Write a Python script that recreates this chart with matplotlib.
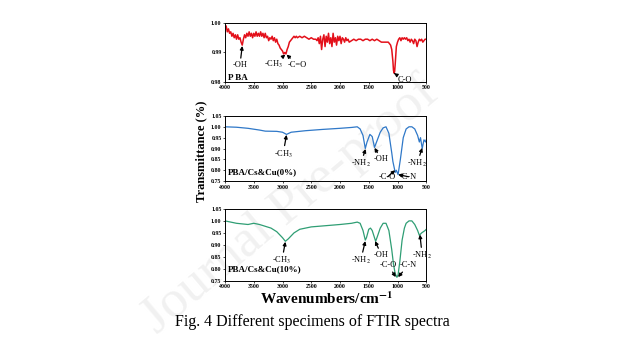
import matplotlib
matplotlib.use('Agg')
import matplotlib.pyplot as plt

plt.rcParams['font.family'] = ['Liberation Serif', 'DejaVu Serif']
plt.rcParams['mathtext.fontset'] = 'stix'

# PBA spectrum (red)
wn_pba = [4000, 3980, 3960, 3940, 3920, 3900, 3880, 3860, 3840, 3820, 3800, 3780, 3760, 3740,
          3720, 3700, 3680, 3660, 3640, 3620, 3600, 3580, 3560, 3540, 3520, 3500, 3480, 3460,
          3440, 3420, 3400, 3380, 3360, 3340, 3320, 3300, 3280, 3260, 3240, 3220, 3200, 3180,
          3160, 3140, 3120, 3100, 3080, 3060, 3040, 3020, 3000, 2980, 2960, 2940, 2920, 2900,
          2880, 2860, 2840, 2820, 2800, 2780, 2760, 2740, 2700, 2660, 2620, 2580, 2540, 2500,
          2460, 2420, 2400, 2380, 2360, 2340, 2320, 2300, 2280, 2260, 2240, 2220, 2200, 2180,
          2160, 2140, 2120, 2100, 2080, 2060, 2040, 2020, 2000, 1980, 1960, 1940, 1920, 1900,
          1880, 1860, 1840, 1800, 1760, 1720, 1680, 1640, 1600, 1560, 1520, 1480, 1440, 1400,
          1360, 1320, 1280, 1240, 1200, 1160, 1140, 1120, 1100, 1080, 1070, 1060, 1050, 1040,
          1030, 1020, 1000, 980, 960, 940, 920, 900, 880, 860, 840, 820, 800, 780, 760, 740,
          720, 700, 680, 660, 640, 620, 600, 580, 560, 540, 520, 500]
t_pba = [0.9985, 0.9990, 0.9970, 0.9980, 0.9965, 0.9970, 0.9955, 0.9965, 0.9950, 0.9960, 0.9945,
         0.9960, 0.9945, 0.9950, 0.9935, 0.9925, 0.9945, 0.9960, 0.9950, 0.9965, 0.9955, 0.9970,
         0.9955, 0.9965, 0.9950, 0.9965, 0.9955, 0.9970, 0.9955, 0.9965, 0.9955, 0.9970, 0.9955,
         0.9965, 0.9950, 0.9965, 0.9950, 0.9955, 0.9940, 0.9950, 0.9945, 0.9955, 0.9940, 0.9950,
         0.9935, 0.9945, 0.9930, 0.9925, 0.9915, 0.9910, 0.9905, 0.9895, 0.9900, 0.9895, 0.9910,
         0.9920, 0.9935, 0.9940, 0.9945, 0.9950, 0.9955, 0.9950, 0.9955, 0.9950, 0.9955, 0.9950,
         0.9955, 0.9950, 0.9945, 0.9950, 0.9945, 0.9945, 0.9940, 0.9950, 0.9930, 0.9955, 0.9910,
         0.9945, 0.9960, 0.9920, 0.9955, 0.9935, 0.9965, 0.9930, 0.9950, 0.9920, 0.9965, 0.9935,
         0.9950, 0.9925, 0.9955, 0.9940, 0.9955, 0.9930, 0.9950, 0.9945, 0.9935, 0.9950, 0.9940,
         0.9945, 0.9935, 0.9940, 0.9945, 0.9940, 0.9945, 0.9945, 0.9940, 0.9945, 0.9945, 0.9940,
         0.9945, 0.9940, 0.9945, 0.9940, 0.9935, 0.9935, 0.9935, 0.9935, 0.9930, 0.9925, 0.9910,
         0.9870, 0.9840, 0.9830, 0.9835, 0.9860, 0.9890, 0.9920, 0.9935, 0.9945, 0.9950, 0.9940,
         0.9950, 0.9945, 0.9950, 0.9945, 0.9950, 0.9940, 0.9945, 0.9935, 0.9945, 0.9940, 0.9930,
         0.9945, 0.9940, 0.9920, 0.9935, 0.9945, 0.9940, 0.9945, 0.9935, 0.9940, 0.9945, 0.9945]

# PBA/Cs&Cu(0%) spectrum (blue)
wn_cu0 = [4000, 3800, 3600, 3400, 3300, 3100, 3000, 2930, 2850, 2600, 2300, 2000, 1800, 1700,
          1650, 1600, 1560, 1530, 1480, 1440, 1400, 1350, 1300, 1250, 1200, 1150, 1100, 1080,
          1040, 1020, 990, 950, 900, 850, 800, 750, 700, 650, 620, 600, 570, 540, 510, 500]
t_cu0 = [1.000, 0.998, 0.993, 0.985, 0.980, 0.979, 0.975, 0.965, 0.975, 0.982, 0.988, 0.993,
         0.997, 1.000, 0.990, 0.960, 0.900, 0.930, 0.965, 0.955, 0.905, 0.940, 0.975, 0.995,
         1.000, 0.970, 0.880, 0.840, 0.790, 0.800, 0.780, 0.850, 0.950, 0.990, 1.000, 1.000,
         0.990, 0.960, 0.930, 0.950, 0.900, 0.940, 0.930, 0.940]

# PBA/Cs&Cu(10%) spectrum (green)
wn_cu10 = [4000, 3800, 3600, 3500, 3400, 3200, 3100, 3000, 2950, 2900, 2800, 2700, 2500, 2000,
           1800, 1700, 1650, 1600, 1560, 1540, 1500, 1470, 1440, 1400, 1380, 1350, 1300, 1250,
           1200, 1150, 1100, 1070, 1040, 1010, 990, 960, 920, 880, 850, 800, 750, 700, 650,
           620, 580, 550, 520, 500]
t_cu10 = [1.000, 0.990, 0.985, 0.990, 0.985, 0.970, 0.955, 0.930, 0.915, 0.925, 0.950, 0.965,
          0.975, 0.985, 0.990, 0.995, 0.990, 0.960, 0.920, 0.930, 0.965, 0.970, 0.960, 0.930,
          0.915, 0.935, 0.970, 0.990, 0.990, 0.960, 0.880, 0.820, 0.780, 0.765, 0.775, 0.830,
          0.920, 0.970, 0.990, 1.000, 1.000, 0.985, 0.960, 0.940, 0.950, 0.955, 0.960, 0.965]

x_ticks = [4000, 3500, 3000, 2500, 2000, 1500, 1000, 500]

fig = plt.figure(figsize=(6.25, 3.43), dpi=100)
fig.patch.set_facecolor('white')

# faint diagonal watermark, drawn underneath everything else
fig.text(0.465, 0.40, 'Journal Pre-proof', fontsize=38, color='#f1f1f1',
         rotation=40, ha='center', va='center', zorder=-5)

left, width = 0.36, 0.322
ax1 = fig.add_axes([left, 0.761, width, 0.172])
ax2 = fig.add_axes([left, 0.472, width, 0.190])
ax3 = fig.add_axes([left, 0.181, width, 0.210])

ax1.plot(wn_pba, t_pba, color='#e3101a', lw=1.1)
ax2.plot(wn_cu0, t_cu0, color='#2f78c8', lw=0.9)
ax3.plot(wn_cu10, t_cu10, color='#2f9e74', lw=0.9)

for ax in (ax1, ax2, ax3):
    ax.patch.set_alpha(0)
    ax.set_xlim(4000, 500)
    ax.set_xticks(x_ticks)
    ax.tick_params(labelsize=4.2, length=1.5, width=0.5, pad=1)
    for lbl in ax.get_xticklabels():
        lbl.set_fontweight('bold')
    for sp in ax.spines.values():
        sp.set_linewidth(0.7)

ax1.set_ylim(0.98, 1.00)
ax1.set_yticks([0.98, 0.99, 1.00])
ax1.set_yticklabels(['0.98', '0.99', '1.00'], fontsize=4.2, fontweight='bold')
for ax in (ax2, ax3):
    ax.set_ylim(0.75, 1.05)
    ax.set_yticks([0.75, 0.80, 0.85, 0.90, 0.95, 1.00, 1.05])
    ax.set_yticklabels(['0.75', '0.80', '0.85', '0.90', '0.95', '1.00', '1.05'],
                       fontsize=4.2, fontweight='bold')

arrow = dict(arrowstyle='-|>', color='black', lw=0.9, mutation_scale=5,
             shrinkA=0, shrinkB=0)
fs = 6


def note(ax, text, xy, xytext, ha='center'):
    ax.annotate(text, xy=xy, xytext=xytext, fontsize=fs, ha=ha, va='center',
                arrowprops=arrow)


note(ax1, '-OH', (3700, 0.9922), (3740, 0.9858))
note(ax1, '-CH$_3$', (2950, 0.9893), (3160, 0.9858))
note(ax1, '-C=O', (2930, 0.9893), (2740, 0.9858))
note(ax1, 'C-O', (1060, 0.9830), (880, 0.9806))
ax1.text(3950, 0.9815, 'P BA', fontsize=6.5, fontweight='bold', va='center')

note(ax2, '-CH$_3$', (2930, 0.963), (2990, 0.875))
note(ax2, '-NH$_2$', (1555, 0.898), (1640, 0.830))
note(ax2, '-OH', (1400, 0.903), (1280, 0.850))
note(ax2, '-C-O', (1040, 0.800), (1170, 0.770))
note(ax2, '-C-N', (990, 0.780), (810, 0.770))
note(ax2, '-NH$_2$', (570, 0.903), (660, 0.830))
ax2.text(3950, 0.79, 'PBA/Cs&Cu(0%)', fontsize=6.5, fontweight='bold', va='center')

note(ax3, '-CH$_3$', (2950, 0.913), (3010, 0.835))
note(ax3, '-NH$_2$', (1560, 0.916), (1640, 0.835))
note(ax3, '-OH', (1390, 0.916), (1280, 0.858))
note(ax3, '-C-O', (1030, 0.766), (1160, 0.815))
note(ax3, '-C-N', (990, 0.766), (810, 0.815))
note(ax3, '-NH$_2$', (610, 0.943), (570, 0.855))
ax3.text(3950, 0.80, 'PBA/Cs&Cu(10%)', fontsize=6.5, fontweight='bold', va='center')

fig.text(0.322, 0.56, 'Transmittance (%)', rotation=90, fontsize=9, fontweight='bold',
         ha='center', va='center')
fig.text(0.523, 0.128, 'Wavenumbers/cm$^{\\mathbf{-1}}$', fontsize=11, fontweight='bold',
         ha='center', va='center')
fig.text(0.5, 0.06, 'Fig. 4 Different specimens of FTIR spectra', fontsize=11.5,
         ha='center', va='center')

fig.savefig('out.png', dpi=100, facecolor='white')
